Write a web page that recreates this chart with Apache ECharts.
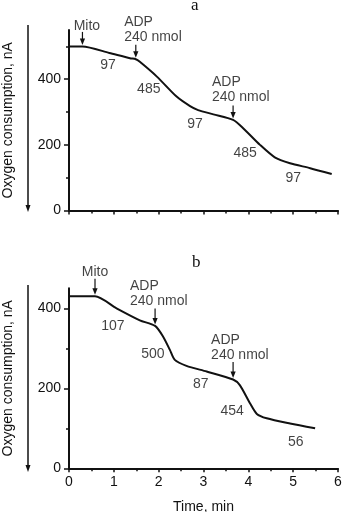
<!DOCTYPE html>
<html>
<head>
<meta charset="utf-8">
<script src="https://cdn.jsdelivr.net/npm/echarts@6/dist/echarts.min.js"></script>
<style>
  html, body { margin: 0; padding: 0; background: #fff; }
  #chart { width: 344px; height: 512px; }
</style>
</head>
<body>
<div id="chart"></div>
<script>
// Oxygen electrode traces: time (min) against oxygen remaining (nA)
const timeA   = [0, 0.3, 0.9, 1.36, 1.49, 1.58, 1.96, 2.40, 2.70, 2.88, 3.22, 3.66, 3.89, 4.26, 4.59, 4.93, 5.38, 5.86];
const oxygenA = [500, 500, 480, 464, 461, 453, 408, 347, 318, 306, 293, 276, 250, 200, 162, 144, 129, 111];

const timeB   = [0, 0.58, 1.06, 1.58, 1.92, 2.10, 2.25, 2.36, 2.62, 3.07, 3.66, 3.81, 4.04, 4.19, 4.41, 4.93, 5.49];
const oxygenB = [430, 430, 400, 370, 356, 329, 296, 271, 256, 242, 222, 208, 162, 136, 125, 112, 100];

// Additions (time of addition, text)
const eventTimesA = [0.3, 1.49, 3.66];
const eventTimesB = [0.58, 1.92, 3.66];
const eventTexts  = ['Mito', 'ADP\n240 nmol', 'ADP\n240 nmol'];
// Where each addition's text sits, in axis units [time, nA]
const eventTextAtA = [[0.40, 562], [1.23, 550], [3.19, 369]];
const eventTextAtB = [[0.58, 490], [1.36, 436], [3.17, 302]];

// Respiration rates written along the traces
const rateTextsA = ['97', '485', '97', '485', '97'];
const rateAtA    = [[0.87, 443], [1.78, 369], [2.81, 264], [3.93, 176], [5.0, 99]];
const rateTextsB = ['107', '500', '87', '454', '56'];
const rateAtB    = [[0.98, 356], [1.87, 286], [2.94, 211], [3.64, 144], [5.06, 66]];

// Axis settings
const timeMax = 6;
const yMaxA = 550;
const yMaxB = 450;
const yLabelValues = [0, 200, 400];
const yMinorValuesA = [100, 300, 500];
const yMinorValuesB = [100, 300];

const FONT = "'Liberation Sans', Arial, Helvetica, sans-serif";
const INK = '#111';

function pairs(xs, ys) { return xs.map((x, i) => [x, ys[i]]); }
function levelAt(xs, ys, t) { return ys[xs.indexOf(t)]; }

function textSeries(gridIdx, points, texts, centerMode) {
  return {
    type: 'scatter',
    xAxisIndex: gridIdx, yAxisIndex: gridIdx,
    symbolSize: 0, silent: true, clip: false, animation: false,
    data: points.map((p, i) => {
      const centered = centerMode === 'all' || (centerMode === 'first' && i === 0);
      return {
        value: p,
        label: {
          show: true,
          formatter: texts[i],
          position: centered ? 'inside' : 'right',
          distance: 0,
          align: centered ? 'center' : 'left',
          verticalAlign: 'middle',
          color: INK, fontFamily: FONT, fontSize: 14, lineHeight: 15
        }
      };
    })
  };
}

// Small downward arrows pointing at the trace where an addition was made
function arrowSeries(gridIdx, times, xs, ys, len) {
  return {
    type: 'custom',
    xAxisIndex: gridIdx, yAxisIndex: gridIdx,
    clip: false, silent: true, animation: false,
    data: times.map(t => [t, levelAt(xs, ys, t)]),
    renderItem(params, api) {
      const p = api.coord([api.value(0), api.value(1)]);
      const tip = p[1] - 1.5;
      return {
        type: 'group',
        children: [
          { type: 'line', shape: { x1: p[0], y1: tip - len, x2: p[0], y2: tip - 4 },
            style: { stroke: INK, lineWidth: 1.2 } },
          { type: 'polygon', shape: { points: [[p[0] - 2.6, tip - 6.5], [p[0] + 2.6, tip - 6.5], [p[0], tip]] },
            style: { fill: INK } }
        ]
      };
    }
  };
}

function traceSeries(gridIdx, xs, ys) {
  return {
    type: 'line',
    xAxisIndex: gridIdx, yAxisIndex: gridIdx,
    data: pairs(xs, ys),
    smooth: 0.25, showSymbol: false, silent: true, animation: false,
    lineStyle: { color: INK, width: 2 }
  };
}

function xAxis(gridIdx, showLabels) {
  return {
    type: 'value', gridIndex: gridIdx, min: 0, max: timeMax, interval: 1,
    axisLine: { lineStyle: { color: INK, width: 2 } },
    axisTick: { length: 4, lineStyle: { color: INK, width: 1.5 } },
    minorTick: { show: true, splitNumber: 2, length: 3, lineStyle: { color: INK, width: 1.5 } },
    splitLine: { show: false },
    axisLabel: { show: showLabels, color: INK, fontFamily: FONT, fontSize: 14, margin: 7 },
    name: showLabels ? 'Time, min' : '',
    nameLocation: 'middle', nameGap: 32,
    nameTextStyle: { color: INK, fontFamily: FONT, fontSize: 14 }
  };
}

function yAxis(gridIdx, max) {
  return {
    type: 'value', gridIndex: gridIdx, min: 0, max: max, interval: 100,
    axisLine: { show: true, lineStyle: { color: INK, width: 2 } },
    axisTick: { show: true, length: 5, customValues: yLabelValues, lineStyle: { color: INK, width: 1.5 } },
    splitLine: { show: false },
    axisLabel: { color: INK, fontFamily: FONT, fontSize: 14, margin: 8, customValues: yLabelValues },
    name: 'Oxygen consumption, nA',
    nameLocation: 'middle', nameRotate: 90, nameGap: 54,
    nameTextStyle: { color: INK, fontFamily: FONT, fontSize: 14 }
  };
}

// Unlabelled half-step ticks on the same y scale
function yMinorAxis(gridIdx, max, values) {
  return {
    type: 'value', gridIndex: gridIdx, min: 0, max: max, interval: 100, position: 'left',
    axisLine: { show: false },
    axisTick: { show: true, length: 3, customValues: values, lineStyle: { color: INK, width: 1.5 } },
    axisLabel: { show: false },
    splitLine: { show: false }
  };
}

function downArrow(x, y1, y2) {
  return [
    { type: 'line', shape: { x1: x, y1: y1, x2: x, y2: y2 - 5 }, style: { stroke: INK, lineWidth: 1.5 } },
    { type: 'polygon', shape: { points: [[x - 2.5, y2 - 7], [x + 2.5, y2 - 7], [x, y2]] }, style: { fill: INK } }
  ];
}

const SERIF = "'Liberation Serif', 'Times New Roman', serif";

const chart = echarts.init(document.getElementById('chart'), null, { renderer: 'canvas' });
chart.setOption({
  animation: false,
  title: [
    { text: 'a', left: 191, top: -3, padding: 0,
      textStyle: { fontFamily: SERIF, fontWeight: 'normal', fontSize: 17, color: INK } },
    { text: 'b', left: 192, top: 254, padding: 0,
      textStyle: { fontFamily: SERIF, fontWeight: 'normal', fontSize: 17, color: INK } }
  ],
  grid: [
    { left: 69, top: 30, width: 269, height: 180.5, outerBoundsMode: 'none', containLabel: false },
    { left: 69, top: 288.3, width: 269, height: 180, outerBoundsMode: 'none', containLabel: false }
  ],
  xAxis: [xAxis(0, false), xAxis(1, true)],
  yAxis: [yAxis(0, yMaxA), yAxis(1, yMaxB), yMinorAxis(0, yMaxA, yMinorValuesA), yMinorAxis(1, yMaxB, yMinorValuesB)],
  series: [
    traceSeries(0, timeA, oxygenA),
    traceSeries(1, timeB, oxygenB),
    arrowSeries(0, eventTimesA, timeA, oxygenA, 13),
    arrowSeries(1, eventTimesB, timeB, oxygenB, 16),
    textSeries(0, eventTextAtA, eventTexts, 'first'),
    textSeries(1, eventTextAtB, eventTexts, 'first'),
    textSeries(0, rateAtA, rateTextsA, 'all'),
    textSeries(1, rateAtB, rateTextsB, 'all')
  ],
  graphic: [].concat(downArrow(28, 25, 212), downArrow(28, 285, 472))
});
</script>
</body>
</html>
